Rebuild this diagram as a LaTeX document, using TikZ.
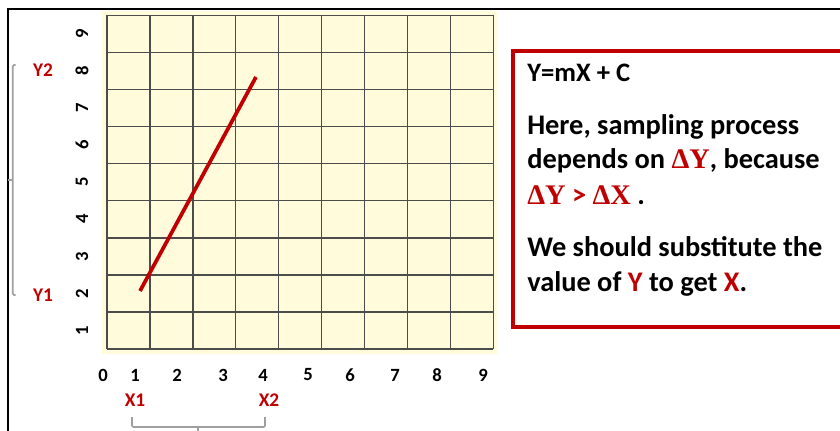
\documentclass[tikz,border=0pt]{standalone}
\usepackage{fontspec}
\setmainfont{Carlito}
\newfontfamily\deltafont{Liberation Serif}
\usepackage{xcolor}
\usetikzlibrary{positioning}
\definecolor{gridfill}{RGB}{255,251,219}
\definecolor{mrared}{RGB}{192,0,0}

\begin{document}
\begin{tikzpicture}[
  x=0.75pt, y=-0.75pt,
  axlbl/.style={font=\fontsize{14}{16}\selectfont\bfseries, inner sep=0pt},
  redlbl/.style={font=\fontsize{14.5}{16}\selectfont\bfseries, text=mrared, inner sep=0pt},
  txtline/.style={font=\fontsize{21.3}{25}\selectfont\bfseries, anchor=base west, inner sep=0pt},
  gridline/.style={draw=black!70, line width=1.1pt},
  brace/.style={draw=gray!75, line width=1.2pt, rounded corners=1pt}
]
\useasboundingbox (0,0) rectangle (840,431);
\draw[line width=1.8pt] (8,431) -- (8,9) -- (840,9);

\fill[gridfill] (102,11) rectangle (497,354);
\foreach \i in {0,...,9} {
  \draw[gridline] ({107+42.92*\i},15.3) -- ({107+42.92*\i},349);
  \draw[gridline] (107,{15.3+37.08*\i}) -- (493.3,{15.3+37.08*\i});
}

\foreach \n in {1,...,9}
  \node[axlbl, rotate=90] (y\n) at (82,{349-37.08*(\n-0.5)}) {\n};
\foreach \n/\x in {0/103,1/135,2/177,3/223,4/263,5/308,6/350,7/395,8/437,9/483}
  \node[axlbl] (x\n) at (\x,375) {\n};

\coordinate (p1) at (140,291);
\coordinate (p2) at (256,77);
\draw[mrared, line width=2.8pt] (p1) -- (p2);

\node[redlbl] (Y2) at (43,70) {Y2};
\node[redlbl] (Y1) at (43,295) {Y1};
\node[redlbl] (X1) at (135,400) {X1};
\node[redlbl] (X2) at (269,400) {X2};

\draw[brace] (15.5,65) -- (12.7,65) -- (12.7,295) -- (15.5,295);
\draw[brace] (12.7,180) -- (8,180);
\draw[brace] (132,417) -- (132,427) -- (265,427) -- (265,417);
\draw[brace] (198,427) -- (198,433);

\draw[mrared, line width=3.5pt] (843,51) -- (513,51) -- (513,327) -- (843,327);
\node[txtline, font=\fontsize{20}{23}\selectfont\bfseries] (eq) at (527,82) {Y=mX + C};
\node[txtline] (l1) at (527,135) {Here, sampling process};
\node[txtline] (l2) at (527,169) {depends on {\color{mrared}\deltafont ΔY}, because};
\node[txtline] (l3) at (527,205) {{\color{mrared}\deltafont ΔY} {\color{mrared}>} {\color{mrared}\deltafont ΔX} .};
\node[txtline] (l4) at (527,257) {We should substitute the};
\node[txtline] (l5) at (527,292) {value of {\color{mrared}Y} to get {\color{mrared}X}.};
\end{tikzpicture}
\end{document}
